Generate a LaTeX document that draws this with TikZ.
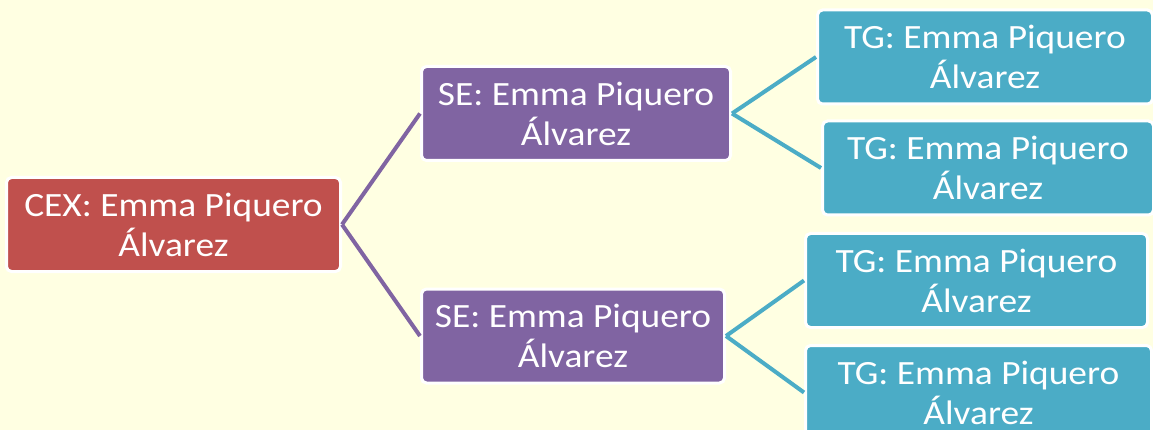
\documentclass[tikz,border=0pt]{standalone}
\usepackage{fontspec}
\setmainfont[FakeStretch=1.1]{Carlito}
\usepackage{tikz}
\usetikzlibrary{positioning}
\definecolor{bgyellow}{RGB}{255,255,226}
\definecolor{cexred}{RGB}{192,80,77}
\definecolor{sepurple}{RGB}{128,100,162}
\definecolor{tgaqua}{RGB}{75,172,198}
\begin{document}
\begin{tikzpicture}[x=1pt,y=-1pt]
      \tikzstyle{every node}+=[inner sep=0pt, text=white, font=\fontsize{34}{40}\selectfont, align=center]
      \tikzstyle{box}=[draw=white, line width=3pt, rounded corners=5pt, minimum height=94pt]
      \tikzstyle{link}=[line width=4pt]
      \clip (0,0) rectangle (1153,430);
      \fill [bgyellow] (0,0) rectangle (1153,430);
      \node [box, fill=cexred, minimum width=334pt] (cex) at (173.5,224.5) {CEX: Emma Piquero\\Álvarez};
      \node [box, fill=sepurple, minimum width=309pt] (se1) at (576,113.5) {SE: Emma Piquero\\Álvarez};
      \node [box, fill=sepurple, minimum width=303pt] (se2) at (573,336) {SE: Emma Piquero\\Álvarez};
      \node [box, fill=tgaqua, minimum width=335pt] (tg1) at (985,57) {TG: Emma Piquero\\Álvarez};
      \node [box, fill=tgaqua, minimum width=331pt] (tg2) at (988,168) {TG: Emma Piquero\\Álvarez};
      \node [box, fill=tgaqua, minimum width=342pt] (tg3) at (976.5,280.5) {TG: Emma Piquero\\Álvarez};
      \node [box, fill=tgaqua, minimum width=346pt] (tg4) at (978.5,392.5) {TG: Emma Piquero\\Álvarez};
      \draw [link, sepurple] (cex.east) -- (se1.west);
      \draw [link, sepurple] (cex.east) -- (se2.west);
      \draw [link, tgaqua] (se1.east) -- (tg1.west);
      \draw [link, tgaqua] (se1.east) -- (tg2.west);
      \draw [link, tgaqua] (se2.east) -- (tg3.west);
      \draw [link, tgaqua] (se2.east) -- (tg4.west);
    \end{tikzpicture}
\end{document}
